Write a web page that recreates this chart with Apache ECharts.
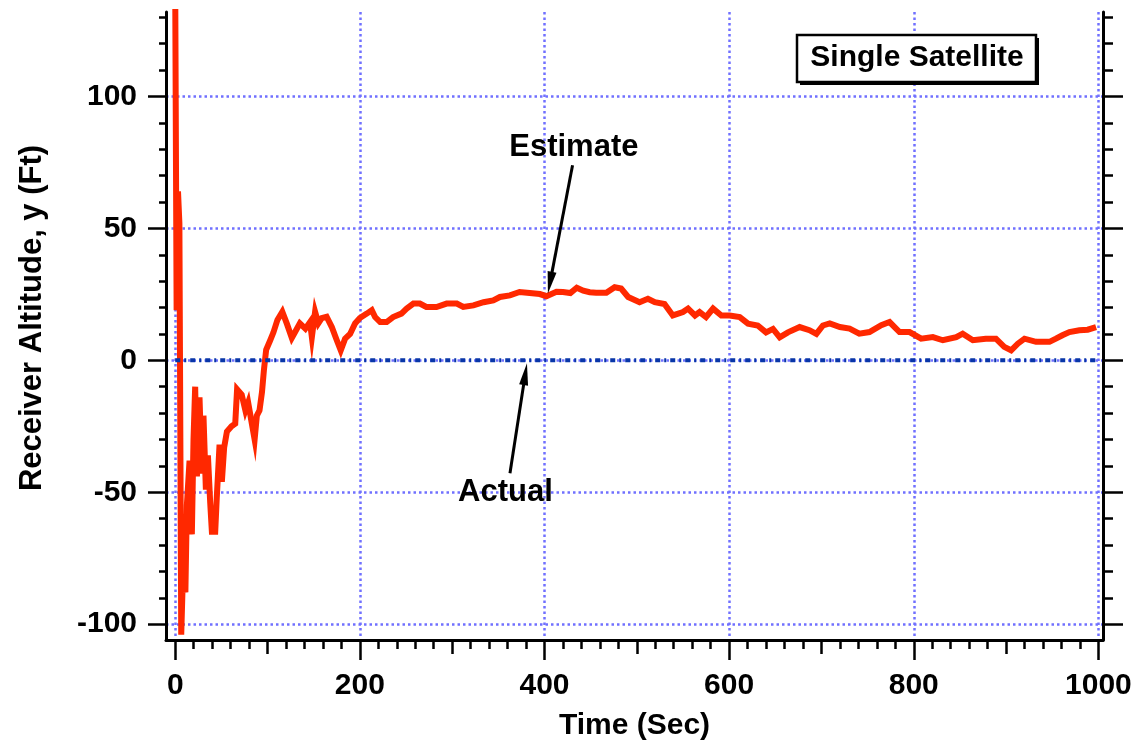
<!DOCTYPE html>
<html><head><meta charset="utf-8">
<script src="https://cdn.jsdelivr.net/npm/echarts@6/dist/echarts.min.js"></script>
<style>html,body{margin:0;padding:0;background:#fff}#c{width:1137px;height:745px}</style>
</head><body><div id="c"></div>
<script>
// ---- data ----
const estimateTime = [0,1.5,3,4.5,6.5,9,11,12.6,15.5,18,19.8,21.6,23.5,26.3,28.9,30.6,33.2,35.4,37.9,39.7,43.3,45,48,50.5,53,56,61,65,67,72,76,79,83,86,88.4,91.3,94,96,98.5,102.8,106.4,110.7,116,121,126.3,130,135,141,146,148,151.5,155,158.7,164,169.6,175,179.3,184,189.4,194.8,200,207.5,212.9,216.5,222,229,236,245,250.7,258,265,272,283,294,305,312,323,334,344.5,351.7,362.5,373,384,395,402,413,420,428,435,442,449,456,467,476,483,490.6,503,512,519.5,530,539,550,555.5,563,568,575,582.6,591.6,600.6,611.5,620.5,631,640,647.5,654.8,663.7,676.4,687,694.5,701.6,709,720,730.5,741,752,764.8,773.8,784.6,795.5,808,820.7,831.5,846,853,864,878,889,898,905.5,912.7,920,932.5,947,954,961,968.6,979.4,988.4,997.5];
const estimateAlt = [140,19,64,52,-104,-73,-88,-55,-38,-66,-30,-10,-44,-14,-43,-21,-49,-36,-54,-65,-65,-52,-32,-46,-33,-27,-25,-24,-11,-13,-19,-16,-24,-30,-21,-19,-12,-4,4,7.5,10.6,15.3,18.4,13.8,8.5,10.8,14,12,14.5,8.8,18.4,14,16,16.5,12.6,7.6,3.8,8.2,10,14,16,17.7,19,16.4,14.5,14.5,16.4,17.7,19.6,21.5,21.5,20.2,20.2,21.5,21.5,20.2,20.8,22,22.7,24,24.6,25.9,25.5,25.1,24.3,26,25.9,25.5,27.5,26.4,25.8,25.6,25.6,27.7,27.2,24,22,23.3,22,21.3,17,18.3,19.6,17,18.3,16.4,19.6,17,17,16.4,13.9,13.2,10.6,11.9,8.7,10.6,12.6,11.4,10,13.2,14,12.6,12,10.1,10.7,13.3,14.5,10.7,10.7,8.2,8.8,7.6,8.8,10.1,7.6,8.2,8.2,5.1,3.8,6.3,8.2,7,7,8.2,9.5,10.7,11.4,11.6,12.6];
const actualTime = [0, 1000];
const actualAlt = [0, 0];
const xMajorTicks = [0, 200, 400, 600, 800, 1000];
const xMidTicks = [100, 300, 500, 700, 900];
const xMinorTicks = [20,40,60,80,120,140,160,180,220,240,260,280,320,340,360,380,420,440,460,480,520,540,560,580,620,640,660,680,720,740,760,780,820,840,860,880,920,940,960,980];
const yMajorTicks = [-100, -50, 0, 50, 100];
const yMinorTicks = [-90,-80,-70,-60,-40,-30,-20,-10,10,20,30,40,60,70,80,90,110,120,130];
const xTitle = 'Time (Sec)';
const yTitle = 'Receiver Altitude, y (Ft)';
const boxTitle = 'Single Satellite';
const estimateLabel = 'Estimate';
const actualLabel = 'Actual';

// ---- chart ----
const FONT = '"Liberation Sans", Arial, Helvetica, sans-serif';
const X_MIN = -10, X_MAX = 1005, Y_MIN = -106, Y_MAX = 132;
const gridLine = { show: true, lineStyle: { color: '#7070ff', width: 2.5, type: [2.5, 3] } };

function xAxisDef(ticks, len, opts) {
  return Object.assign({
    type: 'value', gridIndex: 0, position: 'bottom', min: X_MIN, max: X_MAX,
    axisLine: { show: false, onZero: false },
    axisTick: { show: true, inside: false, length: len, customValues: ticks, lineStyle: { color: '#000', width: 2.5 } },
    axisLabel: { show: false },
    splitLine: { show: false }
  }, opts || {});
}
function yAxisDef(pos, ticks, len, opts) {
  return Object.assign({
    type: 'value', gridIndex: 0, position: pos, min: Y_MIN, max: Y_MAX,
    axisLine: { show: false, onZero: false },
    axisTick: { show: true, inside: false, length: len, customValues: ticks, lineStyle: { color: '#000', width: 2.5 } },
    axisLabel: { show: false },
    splitLine: { show: false }
  }, opts || {});
}

const option = {
  animation: false,
  backgroundColor: '#fff',
  grid: { left: 166, right: 34, top: 12, bottom: 105, containLabel: false, outerBoundsMode: 'none' },
  xAxis: [
    xAxisDef(xMajorTicks, 20, {
      axisLine: { show: true, onZero: false, lineStyle: { color: '#000', width: 3 } },
      axisLabel: { show: true, customValues: xMajorTicks, formatter: v => String(v), margin: 31, color: '#000', fontSize: 30, fontWeight: 'bold', fontFamily: FONT },
      splitLine: gridLine,
      name: xTitle, nameLocation: 'middle', nameGap: 71, nameMoveOverlap: false,
      nameTextStyle: { color: '#000', fontSize: 30, fontWeight: 'bold', fontFamily: FONT }
    }),
    xAxisDef(xMidTicks, 14),
    xAxisDef(xMinorTicks, 9)
  ],
  yAxis: [
    yAxisDef('left', yMajorTicks, 18, {
      axisLine: { show: true, onZero: false, lineStyle: { color: '#000', width: 3 } },
      axisLabel: { show: true, customValues: yMajorTicks, formatter: v => String(v), margin: 29, color: '#000', fontSize: 30, fontWeight: 'bold', fontFamily: FONT, padding: [0, 0, 5, 0] },
      splitLine: gridLine,
      name: yTitle, nameLocation: 'middle', nameRotate: 90, nameGap: 118, nameMoveOverlap: false,
      nameTextStyle: { color: '#000', fontSize: 31, fontWeight: 'bold', fontFamily: FONT, padding: [0, 0, 0, 16] }
    }),
    yAxisDef('left', yMinorTicks, 7),
    yAxisDef('right', yMajorTicks, 20, {
      axisLine: { show: true, onZero: false, lineStyle: { color: '#000', width: 3 } }
    }),
    yAxisDef('right', yMinorTicks, 10)
  ],
  series: [
    {
      name: estimateLabel, type: 'line', xAxisIndex: 0, yAxisIndex: 0,
      data: estimateTime.map((t, i) => [t, estimateAlt[i]]),
      showSymbol: false, symbol: 'none', clip: true,
      lineStyle: { color: '#ff2800', width: 6, join: 'miter' }, z: 3
    },
    {
      name: actualLabel, type: 'line', xAxisIndex: 0, yAxisIndex: 0,
      data: actualTime.map((t, i) => [t, actualAlt[i]]),
      showSymbol: false, symbol: 'none',
      lineStyle: { color: '#0836a8', width: 4, type: [5, 4, 2, 4] }, z: 4
    }
  ]
};

const chart = echarts.init(document.getElementById('c'));
chart.setOption(option);

function px(t, y) { return chart.convertToPixel({ seriesIndex: 0 }, [t, y]); }
function arrow(tailData, tipData) {
  const a = px(tailData[0], tailData[1]);
  const b = px(tipData[0], tipData[1]);
  const dx = b[0] - a[0], dy = b[1] - a[1];
  const L = Math.hypot(dx, dy), ux = dx / L, uy = dy / L;
  const head = 22, hw = 4.5;
  const bx = b[0] - ux * head, by = b[1] - uy * head;
  return [
    { type: 'line', shape: { x1: a[0], y1: a[1], x2: bx + ux * 4, y2: by + uy * 4 }, style: { stroke: '#000', lineWidth: 3 }, z: 10 },
    { type: 'polygon', shape: { points: [[b[0], b[1]], [bx - uy * hw, by + ux * hw], [bx + uy * hw, by - ux * hw]] }, style: { fill: '#000' }, z: 10 }
  ];
}
function label(text, t, y) {
  const p = px(t, y);
  return { type: 'text', x: p[0], y: p[1], z: 10,
    style: { text: text, fill: '#000', font: 'bold 31px ' + FONT, align: 'center', verticalAlign: 'middle', textAlign: 'center', textVerticalAlign: 'middle' } };
}

const graphics = []
  .concat(arrow([430.4, 73.9], [403.7, 25.3]))
  .concat(arrow([362.6, -42.8], [381, -1.1]))
  .concat([label(estimateLabel, 431.8, 80.6), label(actualLabel, 357.7, -50)])
  .concat([
    { type: 'rect', shape: { x: 800, y: 38, width: 239, height: 47 }, style: { fill: '#000' }, z: 10 },
    { type: 'rect', shape: { x: 797, y: 35, width: 239, height: 47 }, style: { fill: '#fff', stroke: '#000', lineWidth: 2.5 }, z: 11 },
    { type: 'text', x: 917, y: 58, z: 12,
      style: { text: boxTitle, fill: '#000', font: 'bold 30px ' + FONT, align: 'center', verticalAlign: 'middle', textAlign: 'center', textVerticalAlign: 'middle' } }
  ]);
chart.setOption({ graphic: graphics });
</script>
</body></html>
